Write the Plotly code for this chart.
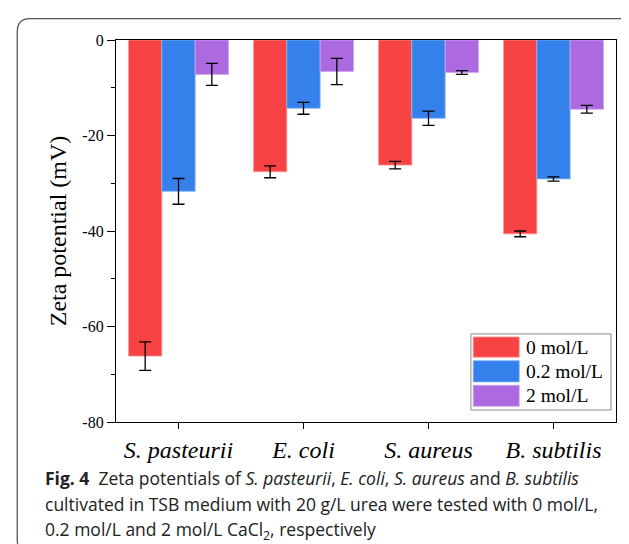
import plotly.graph_objects as go

# ---- data ----
categories = ["S. pasteurii", "E. coli", "S. aureus", "B. subtilis"]
series_names = ["0 mol/L", "0.2 mol/L", "2 mol/L"]
zeta_0 = [-66.2, -27.6, -26.2, -40.6]
err_0 = [3.0, 1.25, 0.8, 0.6]
zeta_02 = [-31.7, -14.3, -16.4, -29.1]
err_02 = [2.7, 1.25, 1.5, 0.45]
zeta_2 = [-7.2, -6.6, -6.8, -14.5]
err_2 = [2.3, 2.75, 0.4, 0.8]
y_ticks = [0, -20, -40, -60, -80]
y_tick_text = ["0", "-20", "-40", "-60", "-80"]

W, H = 629, 544
L, R, T, B = 108, 607.7, 32.3, 414
SERIF = "Liberation Serif, Times New Roman, serif"
SANS = "Open Sans, Noto Sans, sans-serif"


def px(x):
    return (x - L) / (R - L)


def py(y):
    return (B - y) / (B - T)


fig = go.Figure()
colors = ["#f74343", "#3581eb", "#ad69df"]
edges = ["#fb9a9a", "#86b6f4", "#cfa6ef"]
for name, vals, errs, c, e in zip(series_names, [zeta_0, zeta_02, zeta_2],
                                  [err_0, err_02, err_2], colors, edges):
    fig.add_trace(go.Bar(
        x=categories, y=vals, name=name, showlegend=False,
        marker=dict(color=c, line=dict(color=e, width=0.8)),
        error_y=dict(type="data", array=errs, visible=True,
                     color="black", thickness=1.3, width=6),
    ))

fig.update_layout(
    width=W, height=H,
    margin=dict(l=L, r=W - R, t=T, b=H - B, pad=0),
    paper_bgcolor="white", plot_bgcolor="white",
    barmode="group", bargap=0.2, bargroupgap=0,
    showlegend=False,
    font=dict(family=SERIF, color="black"),
)

fig.update_xaxes(
    showline=True, linecolor="black", linewidth=1.3, mirror=True,
    ticks="outside", ticklen=6, tickwidth=1.3, tickcolor="black",
    tickfont=dict(family=SERIF, size=24, color="black", style="italic"),
    showgrid=False, zeroline=False,
)
fig.update_yaxes(
    range=[-80, 0],
    tickmode="array", tickvals=y_ticks, ticktext=y_tick_text,
    showline=True, linecolor="black", linewidth=1.3, mirror=True,
    ticks="outside", ticklen=8, tickwidth=1.3, tickcolor="black",
    minor=dict(tickmode="linear", tick0=0, dtick=10, ticks="outside",
               ticklen=4, tickwidth=1.3, tickcolor="black", showgrid=False),
    tickfont=dict(family=SERIF, size=16, color="black"),
    title=dict(text="Zeta potential (mV)", standoff=8,
               font=dict(family=SERIF, size=24, color="black")),
    showgrid=False, zeroline=False,
)

# ---- legend (drawn as a boxed key) ----
fig.add_shape(type="rect", xref="paper", yref="paper",
              x0=px(462.7), x1=px(602.7), y0=py(402), y1=py(326),
              line=dict(color="#8c8c8c", width=1), fillcolor="white")
sw_top = [329, 352.7, 377.3]
sw_bot = [349.3, 374, 398.3]
for name, c, e, t0, t1 in zip(series_names, colors, edges, sw_top, sw_bot):
    fig.add_shape(type="rect", xref="paper", yref="paper",
                  x0=px(465), x1=px(511), y0=py(t1), y1=py(t0),
                  line=dict(color=e, width=0.8), fillcolor=c)
    fig.add_annotation(text=name, xref="paper", yref="paper",
                       x=px(516), y=py((t0 + t1) / 2), xanchor="left",
                       yanchor="middle", showarrow=False,
                       font=dict(family=SERIF, size=19.5, color="black"))

# rounded frame around figure
x0, y0, x1, y1, r = 9.3, 11, 629.5, 545, 13
path = (f"M {px(x0)},{py(y0 + r)} "
        f"Q {px(x0)},{py(y0)} {px(x0 + r)},{py(y0)} "
        f"L {px(x1 - r)},{py(y0)} "
        f"Q {px(x1)},{py(y0)} {px(x1)},{py(y0 + r)} "
        f"L {px(x1)},{py(y1 - r)} "
        f"Q {px(x1)},{py(y1)} {px(x1 - r)},{py(y1)} "
        f"L {px(x0 + r)},{py(y1)} "
        f"Q {px(x0)},{py(y1)} {px(x0)},{py(y1 - r)} Z")
fig.add_shape(type="path", path=path, xref="paper", yref="paper",
              line=dict(color="#555555", width=1.3), fillcolor="rgba(0,0,0,0)",
              layer="above")

caption_lines = [
    "<b>Fig. 4</b>  Zeta potentials of <i>S. pasteurii</i>, <i>E. coli</i>, "
    "<i>S. aureus</i> and <i>B. subtilis</i>",
    "cultivated in TSB medium with 20 g/L urea were tested with 0 mol/L,",
    "0.2 mol/L and 2 mol/L CaCl<sub>2</sub>, respectively",
]
for i, line in enumerate(caption_lines):
    fig.add_annotation(
        text=line, xref="paper", yref="paper",
        x=px(35), y=py(470 + 26 * i), xanchor="left", yanchor="middle",
        showarrow=False, font=dict(family=SANS, size=17.5, color="#222222"),
        align="left",
    )

fig.write_html("out.html")
